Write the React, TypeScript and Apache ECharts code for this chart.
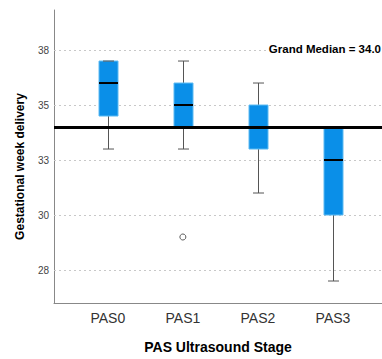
import React, { useEffect, useRef } from "react";
import * as echarts from "echarts";

const categories = ["PAS0", "PAS1", "PAS2", "PAS3"];
const whiskerLow = [33, 33, 31, 27];
const q1 = [34.5, 34, 33, 30];
const median = [36, 35, 34, 32.5];
const q3 = [37, 36, 35, 34];
const whiskerHigh = [37, 37, 36, 34];
const outliers = [[1, 29]];
const grandMedian = 34.0;
const yTickValues = [27.5, 30, 32.5, 35, 37.5];
const yTickLabels = ["28", "30", "33", "35", "38"];

const FONT = "'Liberation Sans', Arial, sans-serif";

export default function App() {
  const ref = useRef<HTMLDivElement>(null);
  useEffect(() => {
    if (!ref.current) return;
    const chart = echarts.init(ref.current, null, { renderer: "svg" });
    const boxData = categories.map((c, i) => [i, whiskerLow[i], q1[i], median[i], q3[i], whiskerHigh[i]]);
    const option: any = {
      animation: false,
      backgroundColor: "#ffffff",
      textStyle: { fontFamily: FONT },
      grid: { left: 54, right: 0, top: 10, bottom: 49 },
      xAxis: {
        type: "value",
        min: -0.717,
        max: 3.653,
        name: "PAS Ultrasound Stage",
        nameLocation: "middle",
        nameGap: 37,
        nameTextStyle: { fontFamily: FONT, fontSize: 14, fontWeight: "bold", color: "#000" },
        axisLine: { show: true, onZero: false, lineStyle: { color: "#888", width: 1 } },
        axisTick: { show: false },
        splitLine: { show: false },
        axisLabel: {
          customValues: [0, 1, 2, 3],
          formatter: (v: number) => categories[Math.round(v)] ?? "",
          fontFamily: FONT,
          fontSize: 14,
          color: "#333",
          margin: 8,
        },
      },
      yAxis: {
        type: "value",
        min: 26,
        max: 39.32,
        name: "Gestational week delivery",
        nameLocation: "middle",
        nameGap: 28,
        nameTextStyle: { fontFamily: FONT, fontSize: 12, fontWeight: "bold", color: "#000", padding: [0, 20, 0, 0] },
        axisLine: { show: true, onZero: false, lineStyle: { color: "#888", width: 1 } },
        axisTick: { show: false },
        splitLine: { show: false },
        axisLabel: {
          customValues: yTickValues,
          formatter: (v: number) => {
            const idx = yTickValues.findIndex((t) => Math.abs(t - v) < 1e-6);
            return idx >= 0 ? yTickLabels[idx] : "";
          },
          fontFamily: FONT,
          fontSize: 10,
          color: "#444",
          margin: 5,
        },
      },
      series: [
        {
          type: "custom",
          z: 2,
          encode: { x: 0, y: [1, 2, 3, 4, 5] },
          data: boxData,
          renderItem: (params: any, api: any) => {
            const x = api.value(0);
            const lo = api.coord([x, api.value(1)]);
            const b1 = api.coord([x, api.value(2)]);
            const md = api.coord([x, api.value(3)]);
            const b3 = api.coord([x, api.value(4)]);
            const hi = api.coord([x, api.value(5)]);
            const cx = Math.round(lo[0]) + 0.5;
            const hw = 9.5;
            const cw = 5.5;
            const wStyle = { stroke: "#555", lineWidth: 1 };
            return {
              type: "group",
              children: [
                { type: "line", shape: { x1: cx, y1: hi[1], x2: cx, y2: b3[1] }, style: wStyle },
                { type: "line", shape: { x1: cx, y1: b1[1], x2: cx, y2: lo[1] }, style: wStyle },
                {
                  type: "rect",
                  shape: { x: cx - hw, y: b3[1], width: hw * 2, height: b1[1] - b3[1] },
                  style: { fill: "#0a8fe8", stroke: "#5cbaf2", lineWidth: 1 },
                },
                { type: "line", shape: { x1: cx - cw, y1: hi[1], x2: cx + cw, y2: hi[1] }, style: wStyle },
                { type: "line", shape: { x1: cx - cw, y1: lo[1], x2: cx + cw, y2: lo[1] }, style: wStyle },
                { type: "line", shape: { x1: cx - hw, y1: md[1], x2: cx + hw, y2: md[1] }, style: { stroke: "#000", lineWidth: 2 } },
              ],
            };
          },
          markLine: {
            z: 1,
            silent: true,
            symbol: "none",
            label: { show: false },
            lineStyle: { color: "#c8c8c8", type: [2, 3], width: 1 },
            data: yTickValues.map((v) => ({ yAxis: v })),
          },
        },
        {
          type: "scatter",
          z: 3,
          data: outliers,
          symbol: "circle",
          symbolSize: 6,
          itemStyle: { color: "#fff", borderColor: "#333", borderWidth: 1 },
          markLine: {
            z: 4,
            silent: true,
            symbol: "none",
            label: { show: false },
            lineStyle: { color: "#000", type: "solid", width: 3 },
            data: [{ yAxis: grandMedian }],
          },
        },
      ],
      graphic: [
        {
          type: "text",
          right: 1,
          top: 43,
          z: 10,
          style: {
            text: "Grand Median = " + grandMedian.toFixed(1),
            fontFamily: FONT,
            fontSize: 11.5,
            fontWeight: "bold",
            fill: "#000",
            backgroundColor: "#fff",
            padding: [0, 0, 0, 2],
          },
        },
      ],
    };
    chart.setOption(option);
    return () => chart.dispose();
  }, []);
  return <div ref={ref} style={{ position: "fixed", left: 0, top: 0, width: 382, height: 359 }} />;
}
